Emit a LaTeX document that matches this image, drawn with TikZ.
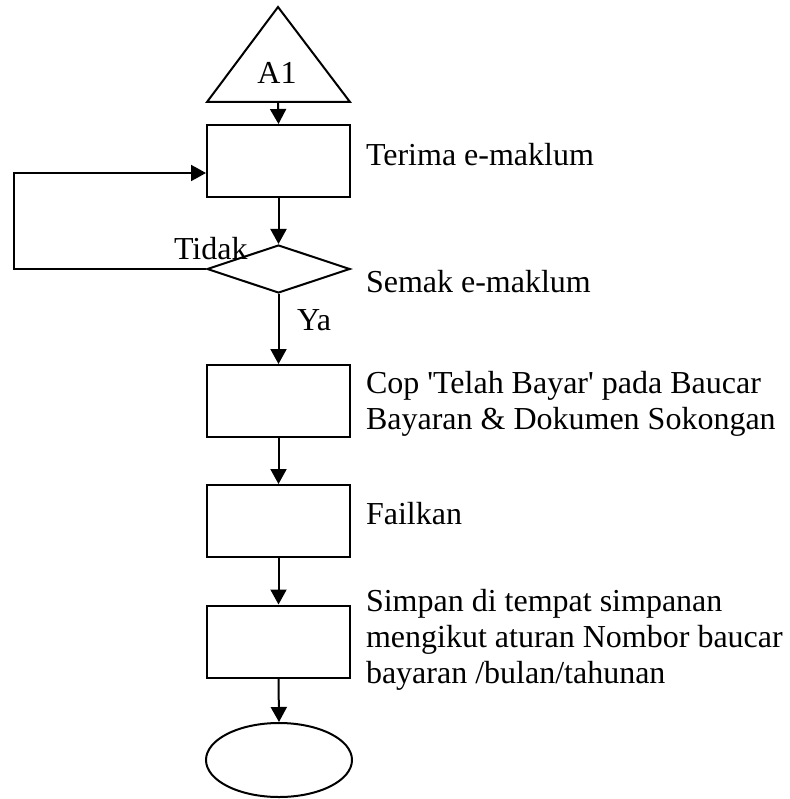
\documentclass[tikz,border=0pt]{standalone}
\usepackage{fontspec}
\setmainfont{Liberation Serif}
\usetikzlibrary{arrows.meta,shapes.geometric}

\begin{document}
\begin{tikzpicture}[x=1pt,y=-1pt,
  line width=2pt,
  every node/.style={font=\fontsize{32}{36}\selectfont, inner sep=0pt},
  stepbox/.style={draw, rectangle, minimum width=143pt, minimum height=72pt},
  decision/.style={draw, diamond, minimum width=143pt, minimum height=48pt},
  terminal/.style={draw, ellipse, minimum width=146pt, minimum height=74pt},
  lbl/.style={anchor=base west},
  flow/.style={-{Triangle[length=15pt,width=16pt]}}
]
\useasboundingbox (0,0) rectangle (789,799);

% connector triangle at the top
\coordinate (triapex) at (278,7);
\coordinate (tribase) at (278,102);
\draw (triapex) -- (350,102) -- (207,102) -- cycle;
\node[anchor=base] (a1) at (277,84) {A1};

% process steps
\node[stepbox] (b1) at (278.5,161) {};
\node[decision] (dia) at (278.5,269) {};
\node[stepbox] (b2) at (278.5,401) {};
\node[stepbox] (b3) at (278.5,521) {};
\node[stepbox] (b4) at (278.5,641.5) {};
\node[terminal] (end) at (279,760) {};

% step descriptions
\node[lbl] (t1) at (365,166) {Terima e-maklum};
\node[lbl] (t2) at (365,292) {Semak e-maklum};
\node[lbl] (t3a) at (365,393) {Cop \textquotesingle Telah Bayar\textquotesingle{} pada Baucar};
\node[lbl] (t3b) at (365,429) {Bayaran \& Dokumen Sokongan};
\node[lbl] (t4) at (365,524) {Failkan};
\node[lbl] (t5a) at (365,611) {Simpan di tempat simpanan};
\node[lbl] (t5b) at (365,647) {mengikut aturan Nombor baucar};
\node[lbl] (t5c) at (365,683) {bayaran /bulan/tahunan};

% decision labels
\node[lbl] (no) at (173,259) {Tidak};
\node[lbl] (yes) at (296,330) {Ya};

% connectors
\draw[flow] (tribase) -- (b1.north);
\draw[flow] (b1.south) -- (dia.north);
\draw[flow] (dia.south) -- (b2.north);
\draw[flow] (b2.south) -- (b3.north);
\draw[flow] (b3.south) -- (b4.north);
\draw[flow] (b4.south) -- (end.north);

% "Tidak" loop back to the first step
\coordinate (loopcorner) at (14,173);
\draw[flow] (dia.west) -| (loopcorner) -- (b1.west |- loopcorner);
\end{tikzpicture}
\end{document}
